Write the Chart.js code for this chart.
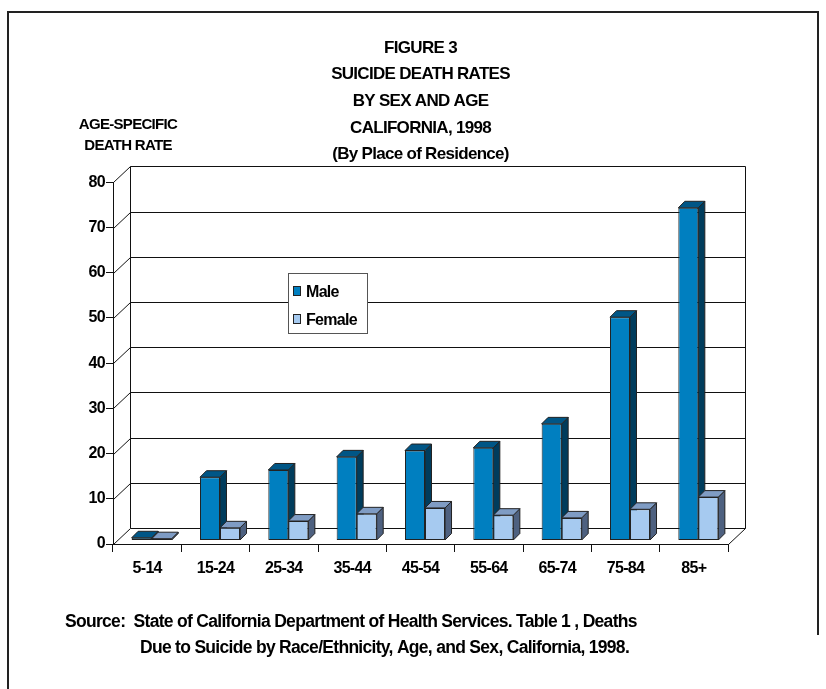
<!DOCTYPE html>
<html>
<head>
<meta charset="utf-8">
<script src="https://cdn.jsdelivr.net/npm/chart.js@4/dist/chart.umd.min.js"></script>
<style>
  html, body { margin: 0; padding: 0; background: #fff; }
</style>
</head>
<body>
<canvas id="myChart" width="826" height="689"></canvas>
<script>
// data
const ageGroups = ['5-14', '15-24', '25-34', '35-44', '45-54', '55-64', '65-74', '75-84', '85+'];
const maleRates = [0.6, 14.0, 15.6, 18.5, 19.9, 20.5, 25.8, 49.4, 73.6];
const femaleRates = [0.4, 2.8, 4.3, 5.9, 7.2, 5.6, 5.0, 6.9, 9.6];
const seriesNames = ['Male', 'Female'];
const yMin = 0, yMax = 80, yStep = 10;

const titleLines = ['FIGURE 3', 'SUICIDE DEATH RATES', 'BY SEX AND AGE', 'CALIFORNIA, 1998', '(By Place of Residence)'];
const yCaption = ['AGE-SPECIFIC', 'DEATH RATE'];
const sourceLines = [
  'Source:  State of California Department of Health Services. Table 1 , Deaths',
  'Due to Suicide by Race/Ethnicity, Age, and Sex, California, 1998.'
];

// colours: front, side, top
const maleColors = ['#007fc0', '#003c5c', '#005686'];
const femaleColors = ['#a6caf0', '#4e6180', '#7f9cc4'];

const FONT = '"Liberation Sans", Arial, sans-serif';
const WALL_DX = 17, WALL_DY = 16;   // depth of the 3d box
const BAR_DX = 6.5, BAR_DY = 6.5;   // depth of a bar
const BAR_SHIFT_X = 4.5, BAR_SHIFT_Y = 3.5;

const threeD = {
  id: 'threeD',
  beforeDraw(chart) {
    chart.ctx.letterSpacing = '-0.7px';
  },
  beforeDatasetsDraw(chart) {
    const { ctx, chartArea: a, scales: { y } } = chart;
    const L = Math.round(a.left) + 0.5, R = Math.round(a.right) + 0.5, B = Math.round(a.bottom) + 0.5;
    ctx.save();
    ctx.strokeStyle = '#111';
    ctx.lineWidth = 1;
    ctx.beginPath();
    for (let v = yMin; v <= yMax; v += yStep) {
      const py = Math.round(y.getPixelForValue(v)) + 0.5;
      ctx.moveTo(L, py);
      ctx.lineTo(L + WALL_DX, py - WALL_DY);
      ctx.lineTo(R + WALL_DX, py - WALL_DY);
    }
    const top = Math.round(y.getPixelForValue(yMax)) + 0.5;
    ctx.moveTo(L + WALL_DX, top - WALL_DY);
    ctx.lineTo(L + WALL_DX, B - WALL_DY);
    ctx.moveTo(R + WALL_DX, top - WALL_DY);
    ctx.lineTo(R + WALL_DX, B - WALL_DY);
    ctx.lineTo(R, B);
    ctx.stroke();
    ctx.restore();

    // side and top faces of the bars, front faces come from chart.js
    ctx.save();
    ctx.translate(BAR_SHIFT_X, -BAR_SHIFT_Y);
    ctx.strokeStyle = '#222';
    ctx.lineWidth = 1;
    const palettes = [maleColors, femaleColors];
    for (let i = 0; i < ageGroups.length; i++) {
      for (let d = 0; d < 2; d++) {
        const el = chart.getDatasetMeta(d).data[i];
        const { x, y: ty, base, width } = el.getProps(['x', 'y', 'base', 'width'], true);
        const l = x - width / 2, r = x + width / 2;
        ctx.fillStyle = palettes[d][1];
        ctx.beginPath();
        ctx.moveTo(r, ty);
        ctx.lineTo(r + BAR_DX, ty - BAR_DY);
        ctx.lineTo(r + BAR_DX, base - BAR_DY);
        ctx.lineTo(r, base);
        ctx.closePath();
        ctx.fill();
        ctx.stroke();
        ctx.fillStyle = palettes[d][2];
        ctx.beginPath();
        ctx.moveTo(l, ty);
        ctx.lineTo(l + BAR_DX, ty - BAR_DY);
        ctx.lineTo(r + BAR_DX, ty - BAR_DY);
        ctx.lineTo(r, ty);
        ctx.closePath();
        ctx.fill();
        ctx.stroke();
      }
    }
  },
  afterDatasetsDraw(chart) {
    const ctx = chart.ctx;
    ctx.restore();

    // legend box
    ctx.save();
    ctx.fillStyle = '#fff';
    ctx.strokeStyle = '#555';
    ctx.lineWidth = 1;
    ctx.fillRect(288, 273, 79, 60);
    ctx.strokeRect(288.5, 273.5, 79, 60);
    ctx.font = 'bold 16px ' + FONT;
    ctx.textBaseline = 'middle';
    const pals = [maleColors, femaleColors];
    seriesNames.forEach((name, k) => {
      const cy = 293 + k * 28;
      ctx.fillStyle = pals[k][0];
      ctx.fillRect(293, cy - 7, 7, 9);
      ctx.strokeStyle = '#222';
      ctx.strokeRect(293.5, cy - 6.5, 7, 9);
      ctx.fillStyle = '#000';
      ctx.fillText(name, 306, cy);
    });
    ctx.restore();
  },
  afterDraw(chart) {
    const ctx = chart.ctx;
    ctx.save();
    ctx.fillStyle = '#000';
    ctx.textBaseline = 'middle';
    ctx.font = 'bold 15px ' + FONT;
    ctx.textAlign = 'center';
    ctx.fillText(yCaption[0], 128, 125);
    ctx.fillText(yCaption[1], 128, 146);
    ctx.textAlign = 'left';
    ctx.font = 'bold 17.5px ' + FONT;
    ctx.fillText(sourceLines[0], 65, 622);
    ctx.fillText(sourceLines[1], 140, 648);
    // frame
    ctx.strokeStyle = '#222';
    ctx.lineWidth = 2;
    ctx.beginPath();
    ctx.moveTo(8, 689);
    ctx.lineTo(8, 12);
    ctx.lineTo(818, 12);
    ctx.lineTo(818, 635);
    ctx.stroke();
    ctx.restore();
  }
};

const ctx = document.getElementById('myChart').getContext('2d');
new Chart(ctx, {
  type: 'bar',
  data: {
    labels: ageGroups,
    datasets: [
      { label: seriesNames[0], data: maleRates, backgroundColor: maleColors[0] },
      { label: seriesNames[1], data: femaleRates, backgroundColor: femaleColors[0] }
    ]
  },
  options: {
    responsive: false,
    animation: false,
    devicePixelRatio: 1,
    layout: { padding: { left: 0, right: 98, top: 0, bottom: 105 } },
    datasets: {
      bar: {
        categoryPercentage: 0.586,
        barPercentage: 1,
        borderColor: '#222',
        borderWidth: 1,
        borderSkipped: false
      }
    },
    plugins: {
      legend: { display: false },
      tooltip: { enabled: false },
      title: {
        display: true,
        fullSize: false,
        text: titleLines,
        color: '#000',
        font: { family: FONT, size: 17, weight: 'bold', lineHeight: 1.56 },
        padding: { top: 35, bottom: 14.75 }
      }
    },
    scales: {
      x: {
        afterFit(scale) { scale.height = 40; },
        grid: { offset: true, drawOnChartArea: false, tickLength: 8, color: '#111' },
        border: { color: '#111' },
        ticks: { color: '#000', padding: 7, font: { family: FONT, size: 16, weight: 'bold' } }
      },
      y: {
        min: yMin,
        max: yMax,
        afterFit(scale) { scale.width = 113; },
        grid: { drawOnChartArea: false, tickLength: 7, color: '#111' },
        border: { color: '#111' },
        ticks: { stepSize: yStep, color: '#000', padding: 1, font: { family: FONT, size: 16, weight: 'bold' } }
      }
    }
  },
  plugins: [threeD]
});
</script>
</body>
</html>
